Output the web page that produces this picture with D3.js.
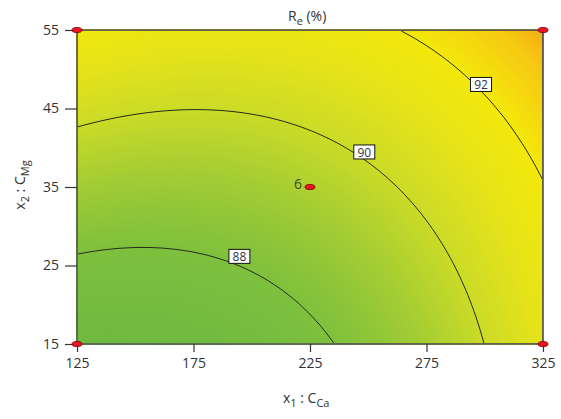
<!DOCTYPE html>
<html><head><meta charset="utf-8">
<script src="https://cdn.jsdelivr.net/npm/d3@7"></script>
<style>
body{margin:0;background:#fff}
svg text{font-family:"Open Sans",sans-serif;fill:#333}
.tick text{font-size:14px}
</style>
</head><body><svg id="c" width="561" height="419"></svg>
<script>
// axis ranges and ticks
var x1Ticks = [125, 175, 225, 275, 325];
var x2Ticks = [15, 25, 35, 45, 55];

// quadratic model in coded units (a=(x1-225)/100, b=(x2-35)/20): b0, a, b, a^2, b^2, ab
var coefs = [89.2816, 1.4746, 1.8648, 1.1928, 0.3507, -0.6213];

// contour levels and label positions (x1, x2)
var levels = [88, 90, 92];
var labelX1 = [194.7, 248.3, 298.4];
var labelX2 = [26.1, 39.4, 48.0];

// design points
var runX1 = [125, 325, 125, 325, 225];
var runX2 = [15, 15, 55, 55, 35];
var runLabel = ["", "", "", "", "6"];

var margin = {top: 30, right: 18, bottom: 75, left: 77},
    width = 561, height = 419;

var svg = d3.select("#c");

var x = d3.scaleLinear().domain([125, 325]).range([margin.left, width - margin.right]);
var y = d3.scaleLinear().domain([15, 55]).range([height - margin.bottom, margin.top]);

function model(x1, x2) {
  var a = (x1 - 225) / 100, b = (x2 - 35) / 20;
  return coefs[0] + coefs[1]*a + coefs[2]*b + coefs[3]*a*a + coefs[4]*b*b + coefs[5]*a*b;
}

var color = d3.scaleLinear()
    .domain([86.5, 88, 89, 90, 91, 92, 93, 93.6])
    .range(["#6ab743", "#7ec03d", "#a3cc34", "#cbdb27", "#e6e31a", "#f3e80b", "#f6c813", "#f5aa17"])
    .clamp(true);

// sample the surface on a grid
var nx = 233, ny = 157,
    dx = 200 / nx, dy = 40 / ny,
    values = new Array(nx * ny);
for (var j = 0; j < ny; j++) {
  for (var i = 0; i < nx; i++) {
    values[i + j*nx] = model(125 + (i + 0.5)*dx, 55 - (j + 0.5)*dy);
  }
}

var path = d3.geoPath(d3.geoTransform({
  point: function(px, py) { this.stream.point(x(125 + px*dx), y(55 - py*dy)); }
}));

// filled bands
var bands = d3.range(85, 94.2, 0.05);
svg.append("g")
  .selectAll("path")
  .data(d3.contours().size([nx, ny]).thresholds(bands)(values))
  .enter().append("path")
    .attr("d", path)
    .attr("fill", function(d) { return color(d.value + 0.025); })
    .attr("stroke", function(d) { return color(d.value + 0.025); })
    .attr("stroke-width", 0.3);

// contour lines
svg.append("defs").append("clipPath").attr("id", "clip")
  .append("rect")
    .attr("x", x(125) + 0.5).attr("y", y(55) + 0.5)
    .attr("width", x(325) - x(125) - 1).attr("height", y(15) - y(55) - 1);

svg.append("g")
  .attr("clip-path", "url(#clip)")
  .selectAll("path")
  .data(d3.contours().size([nx, ny]).thresholds(levels)(values))
  .enter().append("path")
    .attr("d", path)
    .attr("fill", "none")
    .attr("stroke", "#262a1c")
    .attr("stroke-width", 1);

// frame
svg.append("rect")
  .attr("x", x(125)).attr("y", y(55))
  .attr("width", x(325) - x(125)).attr("height", y(15) - y(55))
  .attr("fill", "none")
  .attr("stroke", "#555")
  .attr("stroke-width", 1.5);

// axes
var xAxis = svg.append("g")
  .attr("transform", "translate(0," + y(15) + ")")
  .call(d3.axisBottom(x).tickValues(x1Ticks).tickSizeInner(8).tickSizeOuter(0).tickPadding(6).tickFormat(d3.format("d")));
xAxis.select(".domain").remove();

var yAxis = svg.append("g")
  .attr("transform", "translate(" + x(125) + ",0)")
  .call(d3.axisLeft(y).tickValues(x2Ticks).tickSizeInner(12).tickSizeOuter(0).tickPadding(6).tickFormat(d3.format("d")));
yAxis.select(".domain").remove();

svg.selectAll(".tick line").attr("stroke", "#333").attr("stroke-width", 1.2);
svg.selectAll(".tick text").attr("fill", "#333");

// contour labels
var lab = svg.append("g").selectAll("g")
  .data(levels)
  .enter().append("g")
    .attr("transform", function(d, i) { return "translate(" + x(labelX1[i]) + "," + y(labelX2[i]) + ")"; });
lab.append("rect")
  .attr("x", -10.5).attr("y", -7.5).attr("width", 21).attr("height", 14)
  .attr("fill", "#fff").attr("stroke", "#111").attr("stroke-width", 1);
lab.append("text")
  .attr("text-anchor", "middle")
  .attr("dy", "0.36em")
  .style("font-size", "12px")
  .style("fill", "#2e3446")
  .text(function(d) { return d; });

// design points
svg.append("g").selectAll("ellipse")
  .data(runX1)
  .enter().append("ellipse")
    .attr("cx", function(d) { return x(d); })
    .attr("cy", function(d, i) { return y(runX2[i]); })
    .attr("rx", 5).attr("ry", 2.6)
    .attr("fill", "#ea1520")
    .attr("stroke", "#7a0000")
    .attr("stroke-width", 0.8);

svg.append("g").selectAll("text")
  .data(runLabel)
  .enter().append("text")
    .attr("x", function(d, i) { return x(runX1[i]) - 8; })
    .attr("y", function(d, i) { return y(runX2[i]) + 2; })
    .attr("text-anchor", "end")
    .style("font-size", "14px")
    .style("fill", "#3b4a30")
    .text(function(d) { return d; });

// titles
var title = svg.append("text")
  .attr("x", 288).attr("y", 21)
  .style("font-size", "14px");
title.append("tspan").text("R");
title.append("tspan").attr("dy", 4).style("font-size", "11px").text("e");
title.append("tspan").attr("dy", -4).text(" (%)");

var xTitle = svg.append("text")
  .attr("x", 283).attr("y", 403)
  .style("font-size", "14px");
xTitle.append("tspan").text("x");
xTitle.append("tspan").attr("dy", 4).style("font-size", "11px").text("1");
xTitle.append("tspan").attr("dy", -4).text(" : C");
xTitle.append("tspan").attr("dy", 4).style("font-size", "11px").text("Ca");

var yTitle = svg.append("text")
  .attr("transform", "translate(25," + 185 + ") rotate(-90)")
  .attr("text-anchor", "middle")
  .style("font-size", "14px");
yTitle.append("tspan").text("x");
yTitle.append("tspan").attr("dy", 4).style("font-size", "11px").text("2");
yTitle.append("tspan").attr("dy", -4).text(" : C");
yTitle.append("tspan").attr("dy", 4).style("font-size", "11px").text("Mg");
</script></body></html>
